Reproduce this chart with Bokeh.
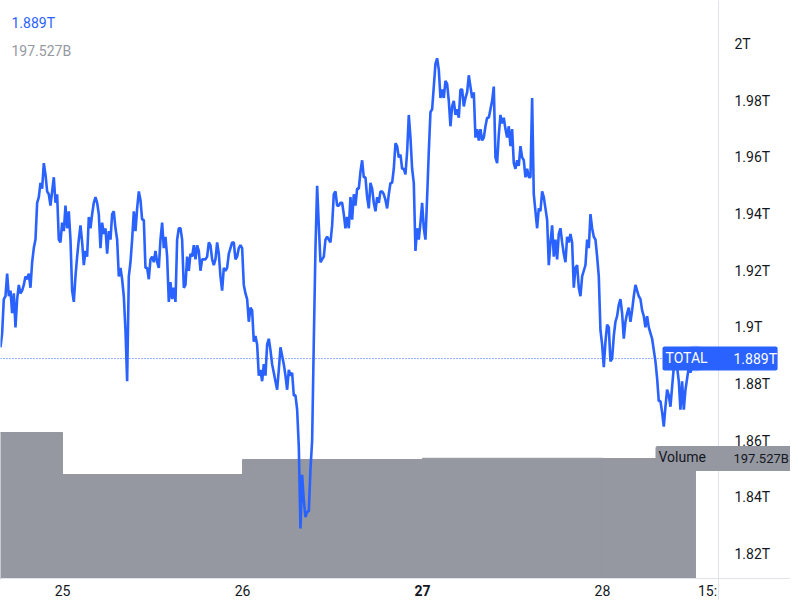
from bokeh.plotting import figure
from bokeh.models import Range1d, FixedTicker, Label, LinearAxis
from bokeh.embed import file_html
from bokeh.resources import INLINE

# TOTAL crypto market cap, in billions USD (regular intraday samples)
total_b = [
    1893, 1898, 1910, 1911, 1919, 1911, 1913, 1905, 1912, 1900,
    1910, 1915, 1912, 1913, 1915, 1918, 1917, 1919, 1914, 1923,
    1928, 1931, 1944, 1946, 1951, 1949, 1958, 1954, 1948, 1947,
    1943, 1948, 1953, 1944, 1947, 1931, 1930, 1937, 1934, 1943,
    1935, 1941, 1931, 1913, 1909, 1918, 1925, 1931, 1936, 1930,
    1922, 1927, 1925, 1939, 1935, 1940, 1944, 1946, 1944, 1940,
    1928, 1937, 1933, 1935, 1926, 1934, 1931, 1940, 1941, 1935,
    1931, 1918, 1921, 1917, 1911, 1899, 1881, 1918, 1923, 1931,
    1941, 1934, 1942, 1948, 1945, 1938, 1938, 1921, 1921, 1917,
    1924, 1925, 1923, 1927, 1923, 1921, 1931, 1937, 1928, 1932,
    1925, 1909, 1916, 1910, 1914, 1909, 1931, 1935, 1935,
    1931, 1914, 1915, 1925, 1920, 1926, 1925, 1929, 1924, 1929, 1927,
    1920, 1924, 1924, 1924, 1925, 1930, 1929, 1924, 1922, 1924,
    1930, 1926, 1918, 1913, 1921, 1920, 1921, 1926, 1928, 1930,
    1930, 1924, 1925, 1928, 1929, 1928, 1915, 1912, 1910, 1902,
    1907, 1906, 1895, 1897, 1894, 1883, 1885, 1881, 1887, 1883,
    1894, 1896, 1892, 1887, 1884, 1881, 1878, 1885, 1893, 1890,
    1887, 1883, 1878, 1885, 1883, 1884, 1876, 1876, 1871, 1858,
    1829, 1848, 1839, 1833, 1835, 1835, 1850, 1860, 1895, 1928,
    1950, 1936, 1923, 1924, 1925, 1931, 1932, 1931, 1930, 1936,
    1947, 1948, 1943, 1943, 1944, 1944, 1940, 1935, 1939, 1935,
    1946, 1938, 1947, 1943, 1949, 1949, 1955, 1959, 1953, 1953,
    1946, 1942, 1951, 1949, 1944, 1941, 1946, 1944, 1948, 1948,
    1947, 1945, 1942, 1947, 1951, 1951, 1956, 1965, 1964, 1960,
    1961, 1956, 1956, 1954, 1962, 1975, 1967, 1956, 1951, 1927,
    1935, 1931, 1937, 1944, 1935, 1931, 1946, 1962, 1976, 1977,
    1985, 1993, 1995, 1991, 1981, 1984, 1981, 1987, 1986, 1980,
    1971, 1978, 1980, 1975, 1977, 1974, 1984, 1984, 1978, 1981,
    1983, 1989, 1985, 1981, 1983, 1967, 1970, 1966, 1970, 1966,
    1967, 1971, 1974, 1974, 1977, 1980, 1985, 1960, 1958, 1968,
    1975, 1972, 1974, 1970, 1967, 1971, 1964, 1970, 1958, 1956,
    1959, 1957, 1964, 1960, 1959, 1953, 1956, 1953, 1953, 1981,
    1947, 1941, 1935, 1942, 1941, 1948, 1946, 1942, 1938, 1922,
    1930, 1936, 1925, 1931, 1924, 1933, 1935, 1930, 1926, 1923,
    1932, 1930, 1933, 1930, 1914, 1921, 1922, 1914, 1911, 1918,
    1920, 1922, 1931, 1928, 1940, 1935, 1932, 1931, 1925, 1918,
    1899, 1894, 1886, 1895, 1901, 1900, 1888, 1889, 1897, 1902,
    1904, 1908, 1910, 1905, 1896, 1902, 1905, 1907, 1902, 1906,
    1911, 1915, 1913, 1911, 1910, 1906, 1904, 1900, 1904, 1900,
    1898, 1896, 1892, 1888, 1882, 1874, 1874, 1870, 1865, 1872,
    1878, 1876, 1872, 1879, 1886, 1887, 1886, 1881, 1871, 1881,
    1871, 1878, 1882, 1886, 1884, 1886, 1890, 1889,
]
start_hour = 15.73          # hours after Feb 24 00:00
step_hour = 40.0 / 180.0    # sample spacing in hours
times = [start_hour + i * step_hour for i in range(len(total_b))]

# daily volume (billions), day start in hours after Feb 24 00:00
vol_day_start = [0, 24, 48, 72, 96]
vol_b = [240.3, 171.2, 195.9, 197.9, 197.527]

y_ticks = [1820, 1840, 1860, 1880, 1900, 1920, 1940, 1960, 1980, 2000]
y_tick_labels = ["1.82T", "1.84T", "1.86T", "1.88T", "1.9T", "1.92T", "1.94T", "1.96T", "1.98T", "2T"]
x_ticks = [24, 48, 72, 96, 110]
x_tick_labels = ["25", "26", "", "28", "15:"]
bold_tick = 72
bold_tick_label = "27"

BLUE = "#2962ff"
GRAY = "#9598a1"
TXT = "#131722"
SEP = "#e0e3eb"
FONT = "Roboto"

# price-scale edge and time-scale edge (data units)
x_edge = 111.47
y_edge = 1811.4

p = figure(width=790, height=600, output_backend="svg", toolbar_location=None,
           x_range=Range1d(15.733, 121.07), y_range=Range1d(1803.6, 2015.4),
           x_axis_location=None, y_axis_location=None,
           min_border_left=0, min_border_top=0, min_border_right=0, min_border_bottom=0)
p.extra_y_ranges = {"vol": Range1d(-36.2, 951.4)}
p.outline_line_color = None
p.grid.visible = False
p.background_fill_color = "white"
p.border_fill_color = "white"

last_t = times[-1]
rights = [min(s + 24, last_t) for s in vol_day_start]
p.quad(left=vol_day_start, right=rights, bottom=0, top=vol_b, y_range_name="vol",
       fill_color=GRAY, line_color=GRAY)

p.segment(x0=[times[0]], y0=[total_b[-1]], x1=[x_edge], y1=[total_b[-1]],
          line_color=BLUE, line_dash="1 2", line_width=1)

p.line(times, total_b, line_color=BLUE, line_width=2.6)
p.scatter([last_t], [total_b[-1]], size=25, fill_color=BLUE, fill_alpha=0.06,
          line_color=BLUE, line_alpha=0.3, line_width=1)

ya = LinearAxis(fixed_location=x_edge)
ya.ticker = FixedTicker(ticks=y_ticks)
ya.major_label_overrides = {t: l for t, l in zip(y_ticks, y_tick_labels)}
ya.major_tick_line_color = None
ya.minor_tick_line_color = None
ya.major_tick_out = 0
ya.major_tick_in = 0
ya.axis_line_color = SEP
ya.major_label_standoff = 16
ya.major_label_text_font = FONT
ya.major_label_text_font_size = "14px"
ya.major_label_text_color = TXT
p.add_layout(ya, "right")

xa = LinearAxis(fixed_location=y_edge)
xa.ticker = FixedTicker(ticks=x_ticks)
xa.major_label_overrides = {t: l for t, l in zip(x_ticks, x_tick_labels)}
xa.major_tick_line_color = None
xa.minor_tick_line_color = None
xa.major_tick_out = 0
xa.major_tick_in = 0
xa.axis_line_color = SEP
xa.major_label_standoff = 5
xa.major_label_text_font = FONT
xa.major_label_text_font_size = "14px"
xa.major_label_text_color = TXT
p.add_layout(xa, "below")

p.add_layout(Label(x=bold_tick, y=10, y_units="screen", text=bold_tick_label,
                   text_font=FONT, text_font_size="14px", text_font_style="bold",
                   text_color=TXT, text_align="center", text_baseline="middle"))

last_txt = f"{total_b[-1] / 1000:.3f}T"
vol_txt = f"{vol_b[-1]:.3f}B"

p.add_layout(Label(x=11, y=578, x_units="screen", y_units="screen", text=last_txt,
                   text_font=FONT, text_font_size="14px", text_color=BLUE,
                   text_baseline="middle"))
p.add_layout(Label(x=11, y=550, x_units="screen", y_units="screen", text=vol_txt,
                   text_font=FONT, text_font_size="14px", text_color=GRAY,
                   text_baseline="middle"))

p.add_layout(Label(x=662, y=total_b[-1], x_units="screen", text="TOTAL",
                   text_font=FONT, text_font_size="14px", text_color="white",
                   text_baseline="middle", background_fill_color=BLUE,
                   padding=(3, 70, 3, 5), border_radius=2))
p.add_layout(Label(x=733, y=total_b[-1], x_units="screen", text=last_txt,
                   text_font=FONT, text_font_size="14px", text_color="white",
                   text_baseline="middle"))

p.add_layout(Label(x=655, y=vol_b[-1], x_units="screen", y_range_name="vol",
                   text="Volume", text_font=FONT, text_font_size="14px",
                   text_color=TXT, text_baseline="middle",
                   background_fill_color=GRAY, padding=(3, 88, 3, 6),
                   border_radius=2))
p.add_layout(Label(x=733, y=vol_b[-1], x_units="screen", y_range_name="vol",
                   text=vol_txt, text_font=FONT, text_font_size="13px",
                   text_color=TXT, text_baseline="middle"))

open("out.html", "w").write(file_html(p, INLINE))
